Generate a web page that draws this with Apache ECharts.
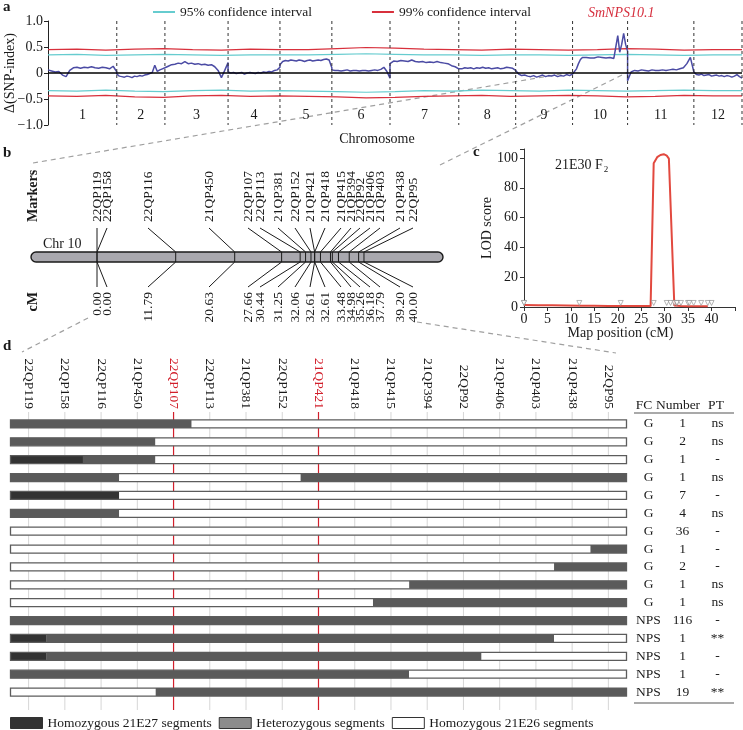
<!DOCTYPE html>
<html><head><meta charset="utf-8">
<script src="https://cdn.jsdelivr.net/npm/echarts@6/dist/echarts.min.js"></script>
<style>html,body{margin:0;padding:0;background:#fff}#c{width:743px;height:730px}</style>
</head><body><div id="c"></div>
<script>
const FONT = "'Liberation Serif','Times New Roman',serif";

// ---------- panel a : Δ(SNP-index) ----------
const chromosomes = ['1','2','3','4','5','6','7','8','9','10','11','12'];
const chromLengthMb = [110, 77, 101, 83, 83, 93, 110, 91, 91, 88, 106, 77];
const deltaSnp = [
  [0.06,0.04,0.02,0.03,-0.04,-0.07,0.05,0.10,0.11,0.09,0.11,0.10,0.12,0.10,0.09,0.11,0.10,0.08,0.13,0.02],
  [-0.02,-0.06,-0.07,-0.08,-0.06,-0.07,-0.09,-0.06,-0.07,-0.05,-0.06,-0.04,-0.03,-0.01,0.01,0.15,0.03,0.06,0.08,0.10],
  [0.10,0.13,0.16,0.17,0.19,0.18,0.22,0.18,0.19,0.17,0.18,0.16,0.17,0.15,0.16,0.12,0.05,-0.09,0.05,0.20],
  [0.02,0.00,0.01,-0.01,0.00,0.01,-0.02,0.00,0.01,0.00,-0.01,0.01,0.00,0.02,0.01,0.03,0.02,0.05,0.06,0.11],
  [0.16,0.22,0.24,0.23,0.25,0.24,0.23,0.25,0.24,0.22,0.24,0.25,0.23,0.24,0.25,0.24,0.26,0.27,0.25,0.10],
  [0.06,0.05,0.05,0.04,0.05,0.06,0.04,0.05,0.05,0.04,0.05,0.05,0.04,0.05,0.06,0.05,0.07,0.11,0.03,-0.10],
  [0.18,0.23,0.22,0.24,0.23,0.22,0.25,0.22,0.21,0.22,0.20,0.21,0.20,0.22,0.20,0.19,0.18,0.14,0.12,0.08],
  [0.09,0.08,0.10,0.09,0.10,0.08,0.10,0.09,0.11,0.09,0.10,0.08,0.09,0.10,0.08,0.09,0.11,0.10,0.09,0.05],
  [0.02,-0.02,-0.05,-0.04,-0.06,-0.07,-0.05,-0.08,-0.06,-0.04,-0.07,-0.05,-0.06,-0.04,-0.07,-0.05,-0.06,-0.03,-0.05,-0.02],
  [-0.03,0.00,0.08,0.18,0.26,0.30,0.29,0.30,0.31,0.29,0.30,0.29,0.30,0.31,0.29,0.30,0.30,0.29,0.31,0.30,0.29,0.28,0.50,0.72,0.40,0.55,0.76,0.55,0.42],
  [-0.15,0.02,0.05,0.04,0.06,0.05,0.04,0.06,0.05,0.05,0.06,0.05,0.06,0.07,0.06,0.08,0.10,0.18,0.30,0.02],
  [-0.01,-0.03,-0.04,-0.02,-0.05,-0.04,-0.03,-0.06,-0.05,-0.04,-0.06,-0.05,-0.07,-0.05,-0.06,-0.08,-0.06,-0.03,-0.07,-0.10]
];
const ci99Upper = [0.45,0.46,0.44,0.46,0.47,0.45,0.44,0.46,0.45,0.45,0.47,0.49,0.48,0.46,0.45,0.44,0.46,0.45,0.44,0.45,0.47,0.46,0.44,0.45,0.45];
const ci95Upper = [0.35,0.36,0.34,0.35,0.36,0.35,0.34,0.35,0.35,0.35,0.36,0.37,0.36,0.35,0.35,0.34,0.35,0.35,0.34,0.35,0.36,0.35,0.34,0.35,0.35];
const ci95Lower = [-0.34,-0.35,-0.33,-0.35,-0.36,-0.34,-0.33,-0.35,-0.34,-0.35,-0.36,-0.37,-0.36,-0.34,-0.35,-0.33,-0.34,-0.35,-0.33,-0.34,-0.35,-0.34,-0.33,-0.34,-0.34];
const ci99Lower = [-0.44,-0.45,-0.43,-0.46,-0.47,-0.44,-0.43,-0.45,-0.44,-0.45,-0.46,-0.48,-0.47,-0.45,-0.44,-0.43,-0.45,-0.44,-0.43,-0.44,-0.46,-0.45,-0.43,-0.44,-0.44];

// ---------- panels b, c, d : markers ----------
const markers = ['22QP119','22QP158','22QP116','21QP450','22QP107','22QP113','21QP381','22QP152','21QP421','21QP418','21QP415','21QP394','22QP92','21QP406','21QP403','21QP438','22QP95'];
const markerCM = [0.00,0.00,11.79,20.63,27.66,30.44,31.25,32.06,32.61,32.61,33.48,34.98,35.26,36.18,37.79,39.20,40.00];
const keyMarkers = ['22QP107','21QP421'];

// panel c : LOD profile
const lodPosCM = [0,3,6,9,12,15,18,21,24,27.0,27.66,28.4,29.1,29.8,30.44,30.9,32.06,33.5,35,37,39.2];
const lodScore = [1.3,1.2,1.1,1.0,0.9,0.8,0.7,0.6,0.6,0.6,96.5,100.5,102,102.5,101.5,99.5,1.0,0.6,0.5,0.5,0.5];

// panel d : recombinant genotypes (A = homozygous 21E27, H = heterozygous, B = homozygous 21E26)
const genotypes = [
  'HHHHHBBBBBBBBBBBB',
  'HHHHBBBBBBBBBBBBB',
  'AAHHBBBBBBBBBBBBB',
  'HHHBBBBBHHHHHHHHH',
  'AAABBBBBBBBBBBBBB',
  'HHHBBBBBBBBBBBBBB',
  'BBBBBBBBBBBBBBBBB',
  'BBBBBBBBBBBBBBBBH',
  'BBBBBBBBBBBBBBBHH',
  'BBBBBBBBBBBHHHHHH',
  'BBBBBBBBBBHHHHHHH',
  'HHHHHHHHHHHHHHHHH',
  'AHHHHHHHHHHHHHHBB',
  'AHHHHHHHHHHHHBBBB',
  'HHHHHHHHHHHBBBBBB',
  'BBBBHHHHHHHHHHHHH'
];
const fcClass = ['G','G','G','G','G','G','G','G','G','G','G','NPS','NPS','NPS','NPS','NPS'];
const plantNumber = ['1','2','1','1','7','4','36','1','2','1','1','116','1','1','1','19'];
const ptSig = ['ns','ns','-','ns','-','ns','-','-','-','ns','ns','-','**','-','-','**'];
const genotypeNames = {A:'Homozygous 21E27 segments', H:'Heterozygous segments', B:'Homozygous 21E26 segments'};

// ---------- styles / layout ----------
const C_BLUE = '#4b4ba4', C_RED = '#d8303c', C_CYAN = '#66cccf';
const GENO_COLOR = {A:'#333333', H:'#5a5a5a', B:'#ffffff'};
const bLabelSlot = [66,76,117,178,217,229,247,264,279,294,310,320,329,339,349,369,382]; // label offsets (px) from panel-b left

// derived
const chromStart = []; let acc = 0;
chromLengthMb.forEach(l => { chromStart.push(acc); acc += l; });
const genomeLen = acc;
const blueData = [];
deltaSnp.forEach((vals, c) => { const n = vals.length; vals.forEach((v, i) => blueData.push([chromStart[c] + chromLengthMb[c] * i / (n - 1), v])); });
const ciData = arr => arr.map((v, i) => [genomeLen * i / (arr.length - 1), v]);

const segs = {A: [], H: [], B: []};
genotypes.forEach((g, r) => {
  let s = 0;
  for (let i = 1; i <= g.length; i++) {
    if (i === g.length || g[i] !== g[s]) { segs[g[s]].push([s, r, i - 1]); s = i; }
  }
});

const txt = (size, extra) => Object.assign({fontFamily: FONT, fontSize: size, color: '#1a1a1a'}, extra || {});
const rotText = (x, y, text, align, bold) => ({type:'text', x, y, rotation: Math.PI/2,
  style:{text, font:(bold?'bold ':'') + '14px ' + FONT, fill:'#1a1a1a', align, verticalAlign:'middle'}});
const dash = (x1, y1, x2, y2) => ({type:'line', shape:{x1,y1,x2,y2}, style:{stroke:'#a0a0a0', lineWidth:1.2, lineDash:[5,4]}});

function segRender(color) {
  return function (params, api) {
    const p1 = api.coord([api.value(0), api.value(1)]);
    const p2 = api.coord([api.value(2), api.value(1)]);
    const bw = api.size([1, 0])[0];
    return {type:'rect', shape:{x:p1[0]-bw/2, y:p1[1]-4, width:p2[0]-p1[0]+bw, height:8}, style:{fill:color}};
  };
}

const chart = echarts.init(document.getElementById('c'), null, {renderer:'canvas'});
const option = {
  animation: false,
  backgroundColor: '#fff',
  textStyle: {fontFamily: FONT},
  title: [
    {text:'a', left:3, top:0, padding:0, textStyle: txt(15, {fontWeight:'bold'})},
    {text:'b', left:3, top:146, padding:0, textStyle: txt(15, {fontWeight:'bold'})},
    {text:'c', left:473, top:145, padding:0, textStyle: txt(15, {fontWeight:'bold'})},
    {text:'d', left:3, top:339, padding:0, textStyle: txt(15, {fontWeight:'bold'})},
    {text:'SmNPS10.1', left:588, top:6, padding:0, textStyle: txt(14, {fontStyle:'italic', fontWeight:'normal', color:'#d62f3e'})},
    {text:'21E30 F{sub|2}', left:555, top:157, padding:0, textStyle: txt(14, {fontWeight:'normal', rich:{sub:{fontFamily:FONT, fontSize:9, color:'#1a1a1a', padding:[8,0,0,1]}}})},
    {text:'Chr 10', left:43, top:237, padding:0, textStyle: txt(14, {fontWeight:'normal'})},
    {text:'{a|FC}{b|Number}{c|PT}', left:634, top:398, padding:0, textStyle: txt(13.5, {fontWeight:'normal', rich:{
      a:{width:20, align:'center', fontFamily:FONT, fontSize:13.5, color:'#1a1a1a'},
      b:{width:48, align:'center', fontFamily:FONT, fontSize:13.5, color:'#1a1a1a'},
      c:{width:28, align:'center', fontFamily:FONT, fontSize:13.5, color:'#1a1a1a'}}})}
  ],
  legend: [
    {data:['95% confidence interval','99% confidence interval'], left:153, top:5, padding:0, icon:'rect',
     itemWidth:22, itemHeight:2, itemGap:60, textStyle: txt(13.5), selectedMode:false},
    {data:[{name:genotypeNames.A, itemStyle:{color:'#333333'}}, {name:genotypeNames.H, itemStyle:{color:'#8c8c8c'}}, {name:genotypeNames.B, itemStyle:{color:'#ffffff'}}],
     left:10, top:716, padding:0, icon:'rect', itemWidth:32, itemHeight:11, itemGap:7,
     itemStyle:{borderColor:'#333', borderWidth:1}, textStyle: txt(13.5), selectedMode:false}
  ],
  grid: [
    {left:48, top:21, width:694, height:104, containLabel:false, outerBoundsMode:'none'},
    {left:31, top:150, width:412, height:170, containLabel:false, outerBoundsMode:'none'},
    {left:524, top:149, width:211, height:158, containLabel:false, outerBoundsMode:'none'},
    {left:10.5, top:415, width:616, height:286, containLabel:false, outerBoundsMode:'none'}
  ],
  xAxis: [
    {gridIndex:0, type:'value', min:0, max:genomeLen, axisLine:{show:false}, axisTick:{show:false}, axisLabel:{show:false}, splitLine:{show:false},
     name:'Chromosome', nameLocation:'middle', nameGap:7, nameMoveOverlap:false, nameTextStyle: txt(14, {padding:[0,36,0,0]})},
    {gridIndex:1, type:'value', min:-9.89, max:51.84, show:false},
    {gridIndex:2, type:'value', min:0, max:45, interval:5, axisLine:{lineStyle:{color:'#333', width:1}}, axisTick:{length:4, lineStyle:{color:'#333'}},
     axisLabel: Object.assign(txt(14), {margin:5, formatter: v => v <= 40 ? String(v) : ''}), splitLine:{show:false},
     name:'Map position (cM)', nameLocation:'middle', nameGap:19, nameMoveOverlap:false, nameTextStyle: txt(14, {padding:[0,18,0,0]})},
    {gridIndex:3, type:'category', position:'top', data: markers.map(m => keyMarkers.includes(m) ? {value:m, textStyle:{color:'#d21f2b'}} : m),
     axisLine:{show:false}, axisTick:{show:false}, splitLine:{show:false},
     axisLabel: Object.assign(txt(13.5), {rotate:90, margin:6, interval:0})}
  ],
  yAxis: [
    {gridIndex:0, type:'value', min:-1, max:1, interval:0.5, axisLine:{show:true, onZero:false, lineStyle:{color:'#222', width:1}},
     axisTick:{show:true, length:4, lineStyle:{color:'#222'}}, splitLine:{show:false},
     axisLabel: Object.assign(txt(14), {margin:5, formatter: v => v === 0 ? '0' : (v < 0 ? '\u2212' : '') + Math.abs(v).toFixed(1)}),
     name:'\u0394(SNP-index)', nameLocation:'middle', nameGap:31, nameMoveOverlap:false, nameTextStyle: txt(14)},
    {gridIndex:1, type:'value', min:0, max:1, show:false},
    {gridIndex:2, type:'value', min:0, max:106, interval:20, axisLine:{show:true, onZero:false, lineStyle:{color:'#333', width:1}},
     axisTick:{show:true, length:4, lineStyle:{color:'#333'}}, splitLine:{show:false},
     axisLabel: Object.assign(txt(14), {margin:6, formatter: v => v % 20 === 0 ? String(v) : ''}),
     name:'LOD score', nameLocation:'middle', nameGap:30, nameMoveOverlap:false, nameTextStyle: txt(14)},
    {gridIndex:3, type:'category', inverse:true, data: genotypes.map((g, i) => 'r' + i), show:false},
    {gridIndex:3, type:'category', inverse:true, position:'right', data: genotypes.map((g, i) => 'r' + i),
     axisLine:{show:false}, axisTick:{show:false}, splitLine:{show:false},
     axisLabel:{interval:0, margin:8, formatter: (v, i) => `{a|${fcClass[i]}}{b|${plantNumber[i]}}{c|${ptSig[i]}}`,
       rich:{a:{width:28, align:'center', fontFamily:FONT, fontSize:13.5, color:'#1a1a1a'},
             b:{width:40, align:'center', fontFamily:FONT, fontSize:13.5, color:'#1a1a1a'},
             c:{width:30, align:'center', fontFamily:FONT, fontSize:13.5, color:'#1a1a1a'}}}}
  ],
  series: [
    // ---- panel a ----
    {type:'line', name:'99% confidence interval', xAxisIndex:0, yAxisIndex:0, data: ciData(ci99Upper), symbol:'none', lineStyle:{color:C_RED, width:1.2}, itemStyle:{color:C_RED}},
    {type:'line', name:'99% confidence interval', xAxisIndex:0, yAxisIndex:0, data: ciData(ci99Lower), symbol:'none', lineStyle:{color:C_RED, width:1.2}, itemStyle:{color:C_RED}},
    {type:'line', name:'95% confidence interval', xAxisIndex:0, yAxisIndex:0, data: ciData(ci95Upper), symbol:'none', lineStyle:{color:C_CYAN, width:1.2}, itemStyle:{color:C_CYAN}},
    {type:'line', name:'95% confidence interval', xAxisIndex:0, yAxisIndex:0, data: ciData(ci95Lower), symbol:'none', lineStyle:{color:C_CYAN, width:1.2}, itemStyle:{color:C_CYAN}},
    {type:'line', name:'\u0394(SNP-index)', xAxisIndex:0, yAxisIndex:0, data: blueData, symbol:'none', lineStyle:{color:C_BLUE, width:1.5}, itemStyle:{color:C_BLUE}, z:3,
     markLine:{silent:true, symbol:'none', label:{show:false}, lineStyle:{color:'#000', width:1.6, type:'solid'}, data:[{yAxis:0}]}},
    {type:'custom', xAxisIndex:0, yAxisIndex:0, data: chromosomes.map((c, i) => [chromStart[i], 0, i]), z:4,
     renderItem: (params, api) => {
       const c = api.value(2); const s = chromStart[c], e = s + chromLengthMb[c];
       const top = api.coord([e, 1]), bot = api.coord([e, -1]), mid = api.coord([(s + e) / 2, -0.82]);
       return {type:'group', children:[
         {type:'line', shape:{x1:top[0], y1:top[1], x2:bot[0], y2:bot[1]}, style:{stroke:'#333', lineWidth:1, lineDash:[3,3]}},
         {type:'text', x:mid[0], y:mid[1], style:{text:chromosomes[c], font:'14px ' + FONT, fill:'#1a1a1a', align:'center', verticalAlign:'middle'}}
       ]};
     }},
    // ---- panel b ----
    {type:'custom', xAxisIndex:1, yAxisIndex:1, data:[[0, 0]], z:2,
     renderItem: (params, api) => {
       const cs = params.coordSys;
       return {type:'rect', shape:{x:cs.x, y:cs.y + 102, width:cs.width, height:10, r:5}, style:{fill:'#a9a8ae', stroke:'#1a1a1a', lineWidth:1.4}};
     }},
    {type:'custom', xAxisIndex:1, yAxisIndex:1, data: markers.map((m, i) => [markerCM[i], 0, i]), z:3,
     renderItem: (params, api) => {
       const i = api.value(2); const cs = params.coordSys;
       const bx = api.coord([markerCM[i], 0])[0];
       const lx = cs.x + bLabelSlot[i]; const y0 = cs.y;
       const ls = {stroke:'#1a1a1a', lineWidth:1};
       return {type:'group', children:[
         {type:'text', x:lx, y:y0 + 72, rotation:Math.PI/2, style:{text:markers[i], font:'13.5px ' + FONT, fill:'#1a1a1a', align:'left', verticalAlign:'middle'}},
         {type:'line', shape:{x1:lx, y1:y0 + 78, x2:bx, y2:y0 + 102}, style:ls},
         {type:'line', shape:{x1:bx, y1:y0 + 102, x2:bx, y2:y0 + 112}, style:ls},
         {type:'line', shape:{x1:bx, y1:y0 + 112, x2:lx, y2:y0 + 137}, style:ls},
         {type:'text', x:lx, y:y0 + 142, rotation:Math.PI/2, style:{text:markerCM[i].toFixed(2), font:'13.5px ' + FONT, fill:'#1a1a1a', align:'right', verticalAlign:'middle'}}
       ]};
     }},
    // ---- panel c ----
    {type:'line', name:'LOD', xAxisIndex:2, yAxisIndex:2, data: lodPosCM.map((x, i) => [x, lodScore[i]]), symbol:'none', lineStyle:{color:'#e2493f', width:2}, itemStyle:{color:'#e2493f'}, z:3},
    {type:'scatter', xAxisIndex:2, yAxisIndex:2, data: markerCM.map(v => [v, 2.7]), symbol:'triangle', symbolRotate:180, symbolSize:[5,5],
     itemStyle:{color:'#ffffff', borderColor:'#8a8a8a', borderWidth:0.8}, z:4},
    // ---- panel d ----
    {type:'custom', xAxisIndex:3, yAxisIndex:3, data: markers.map((m, i) => [i, 0]), z:1,
     renderItem: (params, api) => {
       const i = api.value(0); const cs = params.coordSys;
       const x = api.coord([i, 0])[0];
       const key = keyMarkers.includes(markers[i]);
       return {type:'line', shape:{x1:x, y1:cs.y - 3, x2:x, y2:cs.y + cs.height + 9}, style:{stroke: key ? '#d21f2b' : '#d6d6d6', lineWidth: key ? 1.2 : 1}};
     }},
    {type:'custom', name:genotypeNames.A, xAxisIndex:3, yAxisIndex:3, data: segs.A, encode:{x:[0,2], y:1}, itemStyle:{color:GENO_COLOR.A}, renderItem: segRender(GENO_COLOR.A), z:3},
    {type:'custom', name:genotypeNames.H, xAxisIndex:3, yAxisIndex:3, data: segs.H, encode:{x:[0,2], y:1}, itemStyle:{color:GENO_COLOR.H}, renderItem: segRender(GENO_COLOR.H), z:3},
    {type:'custom', name:genotypeNames.B, xAxisIndex:3, yAxisIndex:3, data: segs.B, encode:{x:[0,2], y:1}, itemStyle:{color:GENO_COLOR.B}, renderItem: segRender(GENO_COLOR.B), z:3},
    {type:'custom', xAxisIndex:3, yAxisIndex:3, data: genotypes.map((g, r) => [0, r, g.length - 1]), encode:{x:[0,2], y:1}, z:4,
     renderItem: (params, api) => {
       const p1 = api.coord([api.value(0), api.value(1)]);
       const p2 = api.coord([api.value(2), api.value(1)]);
       const bw = api.size([1, 0])[0];
       return {type:'rect', shape:{x:p1[0]-bw/2, y:p1[1]-4, width:p2[0]-p1[0]+bw, height:8}, style:{fill:'none', stroke:'#5c5c5c', lineWidth:1.3}};
     }}
  ],
  graphic: [
    dash(33, 163, 573, 72),
    dash(440, 165, 628, 72),
    dash(88, 318, 22, 352),
    dash(417, 322, 616, 353),
    rotText(33, 222, 'Markers', 'left', true),
    rotText(33, 292, 'cM', 'right', true),
    {type:'line', shape:{x1:634, y1:413, x2:734, y2:413}, style:{stroke:'#555', lineWidth:1.2}},
    {type:'line', shape:{x1:634, y1:703, x2:734, y2:703}, style:{stroke:'#555', lineWidth:1.2}}
  ]
};
chart.setOption(option);
</script></body></html>
